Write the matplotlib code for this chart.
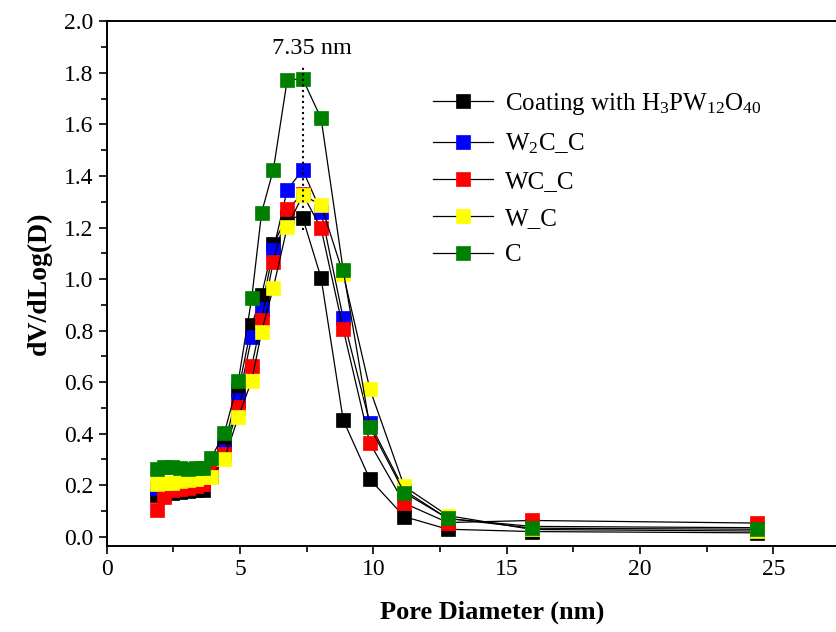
import matplotlib
matplotlib.use('Agg')
import matplotlib.pyplot as plt
from matplotlib.ticker import MultipleLocator

plt.rcParams['font.family'] = ['Liberation Serif', 'DejaVu Serif']
plt.rcParams['mathtext.default'] = 'regular'

# pore diameter (nm)
diam = [1.87, 2.15, 2.45, 2.75, 3.05, 3.35, 3.6, 3.91, 4.41, 4.94, 5.44, 5.81,
        6.25, 6.77, 7.35, 8.04, 8.87, 9.87, 11.16, 12.79, 15.96, 24.37]

coating = [0.162, 0.165, 0.17, 0.172, 0.176, 0.18, 0.183, 0.235, 0.356, 0.569, 0.822, 0.938,
           1.136, 1.242, 1.238, 1.005, 0.453, 0.223, 0.078, 0.029, 0.02, 0.015]
w2c_c = [0.19, 0.19, 0.19, 0.195, 0.195, 0.2, 0.205, 0.25, 0.334, 0.53, 0.776, 0.882,
         1.113, 1.346, 1.424, 1.262, 0.848, 0.44, 0.18, 0.07, 0.04, 0.035]
wc_c = [0.104, 0.155, 0.18, 0.185, 0.19, 0.195, 0.205, 0.259, 0.32, 0.505, 0.663, 0.841,
        1.068, 1.271, 1.33, 1.197, 0.806, 0.363, 0.13, 0.055, 0.063, 0.053]
w_c = [0.205, 0.208, 0.21, 0.215, 0.22, 0.225, 0.23, 0.233, 0.30, 0.466, 0.606, 0.796,
       0.967, 1.201, 1.326, 1.288, 1.02, 0.573, 0.195, 0.082, 0.028, 0.022]
c = [0.262, 0.27, 0.27, 0.268, 0.262, 0.265, 0.268, 0.304, 0.401, 0.606, 0.927, 1.258,
     1.424, 1.773, 1.777, 1.624, 1.035, 0.427, 0.171, 0.071, 0.033, 0.029]

labels = [r'Coating with H$_{3}$PW$_{12}$O$_{40}$', r'W$_{2}$C_C', 'WC_C', 'W_C', 'C']
colors = ['#000000', '#0000ff', '#ff0000', '#ffff00', '#008000']
series = [coating, w2c_c, wc_c, w_c, c]

fig = plt.figure(figsize=(8.36, 6.32), dpi=100)
ax = fig.add_axes([0.1276, 0.1361, 0.8724, 0.830])

for s, col, lab in zip(series, colors, labels):
    ax.plot(diam, s, '-', color='black', lw=0.9, marker='s', ms=10,
            mfc=col, mec=col, mew=0.5, label=lab)

# peak marker
ax.plot([7.35, 7.35], [1.19, 1.83], ':', color='black', lw=1.5)
ax.text(7.7, 1.895, '7.35 nm', ha='center', va='center', fontsize=17.5)

ax.set_xlim(0, 27.35)
ax.set_ylim(-0.036, 2.0)
ax.xaxis.set_major_locator(MultipleLocator(5))
ax.xaxis.set_minor_locator(MultipleLocator(2.5))
ax.yaxis.set_major_locator(MultipleLocator(0.2))
ax.yaxis.set_minor_locator(MultipleLocator(0.1))
ax.yaxis.set_major_formatter(plt.FuncFormatter(lambda v, p: f'{v:.1f}'))
ax.tick_params(which='major', direction='out', length=6, width=1.2, labelsize=17, top=False, right=False)
ax.tick_params(which='minor', direction='out', length=4, width=1.2, top=False, right=False)
ax.spines['right'].set_visible(False)
for sp in ['left', 'bottom', 'top']:
    ax.spines[sp].set_linewidth(1.4)

ax.set_xlabel('Pore Diameter (nm)', fontsize=19, fontweight='bold')
ax.xaxis.set_label_coords(0.528, -0.105)
ax.set_ylabel('dV/dLog(D)', fontsize=20, fontweight='bold')
ax.yaxis.set_label_coords(-0.075, 0.5)

ax.legend(loc='upper left', bbox_to_anchor=(0.447, 0.867), frameon=False, fontsize=18,
          numpoints=1, handlelength=2.4, handletextpad=0.5, labelspacing=0.57,
          borderpad=0, borderaxespad=0)

fig.savefig('out.png', dpi=100)
